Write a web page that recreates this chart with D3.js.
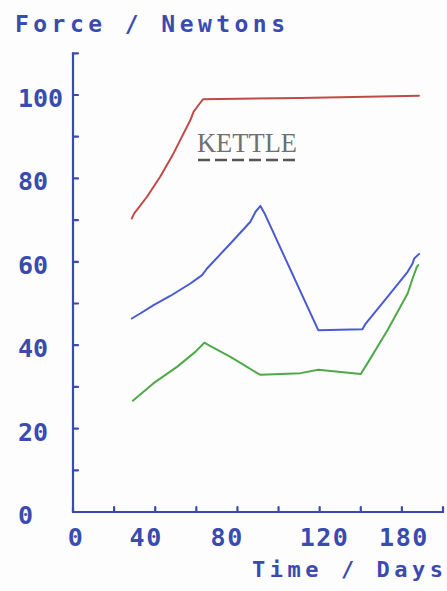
<!DOCTYPE html>
<html>
<head>
<meta charset="utf-8">
<script src="https://cdn.jsdelivr.net/npm/d3@7"></script>
<style>
  html, body { margin: 0; padding: 0; background: #fdfdfd; }
  svg { display: block; }
</style>
</head>
<body>
<svg id="chart" width="447" height="591"></svg>
<script>
// ---- data (days, newtons) ----
const kettleDays   = [28.6, 29.8, 36.0, 42.4, 48.9, 53.8, 57.1, 58.7, 61.1, 63.3, 110.7, 168.3];
const kettleForce  = [70.4, 71.6, 75.6, 80.4, 86.0, 90.8, 94.0, 96.0, 97.6, 99.0, 99.3, 99.8];

const blueDays     = [28.6, 32.7, 39.2, 47.3, 57.1, 62.8, 65.2, 76.6, 86.3, 88.8, 91.2, 93.2, 119.3, 140.8, 142.4, 153.0, 162.8, 165.2, 166.0, 168.4];
const blueForce    = [46.4, 47.6, 49.6, 51.8, 54.8, 56.8, 58.4, 64.4, 69.6, 72.0, 73.4, 71.6, 43.6, 43.8, 45.2, 51.6, 57.6, 59.6, 60.8, 61.9];

const greenDays    = [29.1, 39.2, 50.6, 59.5, 63.9, 66.0, 76.6, 89.6, 91.2, 110.7, 119.3, 140.0, 143.3, 153.0, 162.8, 165.2, 167.3, 168.0];
const greenForce   = [26.7, 30.9, 34.8, 38.4, 40.6, 40.0, 37.2, 33.3, 32.9, 33.3, 34.1, 33.1, 35.7, 43.6, 52.4, 56.0, 58.8, 59.2];

const yTickValues  = [0, 10, 20, 30, 40, 50, 60, 70, 80, 90, 100, 110];
const yLabelValues = [0, 20, 40, 60, 80, 100];
const xTickValues  = [0, 20, 40, 60, 80, 100, 120, 140, 160, 180];
const xLabelText   = ["0", "40", "80", "120", "180"];
const xLabelAt     = [1.5, 35.6, 75, 122.4, 161];

const yTitle = "Force / Newtons";
const xTitle = "Time / Days";
const noteText = "KETTLE";

// ---- setup ----
const svg = d3.select("#chart");
const axisColor = "#3a4bb0";
const monoFont = "'DejaVu Sans Mono', monospace";

const x = d3.scaleLinear().domain([0, 180]).range([73, 443]);
const y = d3.scaleLinear().domain([0, 100]).range([512, 95]);

const axes = svg.append("g")
  .attr("stroke", axisColor).attr("stroke-width", 2.2).attr("stroke-linecap", "round");

// y axis line + ticks (pointing right)
axes.append("line")
  .attr("x1", x(0)).attr("x2", x(0))
  .attr("y1", y(0)).attr("y2", y(d3.max(yTickValues)));
axes.append("g").selectAll("line").data(yTickValues).join("line")
  .attr("x1", x(0)).attr("x2", x(0) + 5)
  .attr("y1", d => y(d)).attr("y2", d => y(d));

// x axis line + ticks (pointing up)
axes.append("line")
  .attr("x1", x(0)).attr("x2", x(d3.max(xTickValues)))
  .attr("y1", y(0)).attr("y2", y(0));
axes.append("g").selectAll("line").data(xTickValues).join("line")
  .attr("x1", d => x(d)).attr("x2", d => x(d))
  .attr("y1", y(0)).attr("y2", y(0) - 5);

// y labels
svg.append("g").selectAll("text").data(yLabelValues).join("text")
  .attr("x", 18)
  .attr("y", d => y(d) + 12)
  .attr("font-family", monoFont)
  .attr("font-weight", "bold")
  .attr("font-size", 25)
  .attr("fill", axisColor)
  .text(d => String(d));

// x labels
svg.append("g").selectAll("text").data(xLabelText).join("text")
  .attr("x", (d, i) => x(xLabelAt[i]))
  .attr("y", 546)
  .attr("text-anchor", "middle")
  .attr("font-family", monoFont)
  .attr("font-weight", "bold")
  .attr("font-size", 25)
  .attr("letter-spacing", 1.5)
  .attr("fill", axisColor)
  .text(d => d);

// titles
svg.append("text")
  .attr("x", 15).attr("y", 32)
  .attr("font-family", monoFont).attr("font-weight", "bold").attr("font-size", 23)
  .attr("textLength", 270).attr("lengthAdjust", "spacing")
  .attr("fill", axisColor)
  .text(yTitle);

svg.append("text")
  .attr("x", 252).attr("y", 577)
  .attr("font-family", monoFont).attr("font-weight", "bold").attr("font-size", 22)
  .attr("textLength", 191).attr("lengthAdjust", "spacing")
  .attr("fill", axisColor)
  .text(xTitle);

// lines
const line = d3.line().x(d => x(d[0])).y(d => y(d[1]));
const series = [
  { days: kettleDays, force: kettleForce, color: "#bf4a48" },
  { days: blueDays,   force: blueForce,   color: "#4a5bd0" },
  { days: greenDays,  force: greenForce,  color: "#4fa84a" }
];
series.forEach(s => {
  svg.append("path")
    .datum(d3.zip(s.days, s.force))
    .attr("d", line)
    .attr("fill", "none")
    .attr("stroke", s.color)
    .attr("stroke-width", 2)
    .attr("stroke-linejoin", "round")
    .attr("stroke-linecap", "round");
});

// KETTLE note
svg.append("text")
  .attr("x", 197).attr("y", 152)
  .attr("font-family", "'Liberation Serif', 'DejaVu Serif', serif")
  .attr("font-size", 28)
  .attr("textLength", 100).attr("lengthAdjust", "spacingAndGlyphs")
  .attr("fill", "#707070")
  .text(noteText);
svg.append("line")
  .attr("x1", 198).attr("x2", 296).attr("y1", 160).attr("y2", 160)
  .attr("stroke", "#555").attr("stroke-width", 2.5)
  .attr("stroke-dasharray", "12 5");
</script>
</body>
</html>
